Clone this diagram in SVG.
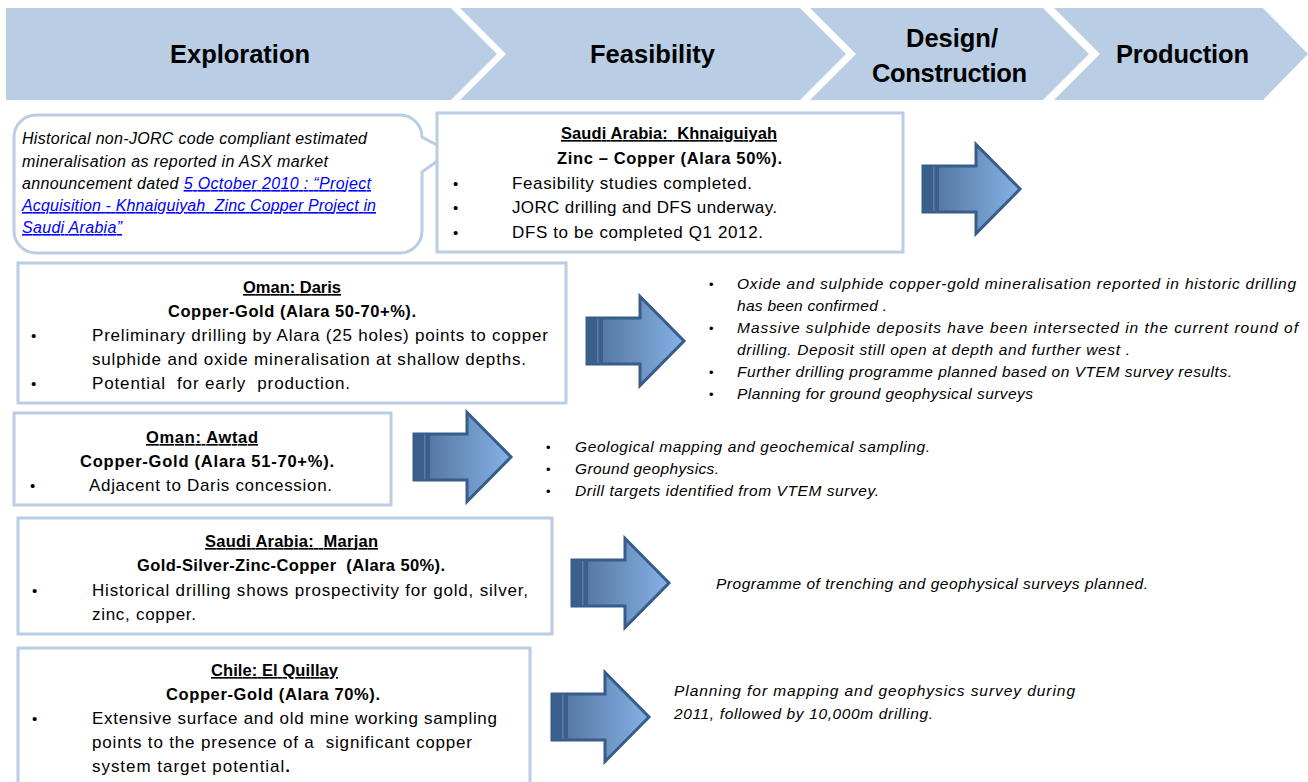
<svg xmlns="http://www.w3.org/2000/svg" width="1308" height="782" viewBox="0 0 1308 782">
<style>
  text { font-family: "Liberation Sans", Arial, sans-serif; fill: #000; }
  .hd { font-size: 25.5px; font-weight: bold; }
  .stage { fill: #b9cde5; }
  .box { fill: #fff; stroke: #b9cde5; stroke-width: 3; }
  .t { font-size: 16.5px; font-weight: bold; }
  .tu { font-size: 16.5px; font-weight: bold; text-decoration: underline; }
  .b { font-size: 17px; }
  .i { font-size: 15.5px; font-style: italic; }
  .ci { font-size: 16px; font-style: italic; }
  .lnk { fill: #0000ff; text-decoration: underline; }
  .dot { font-size: 15px; }
  .idot { font-size: 13px; }
</style>
<defs>
  <linearGradient id="ag" x1="0" y1="0" x2="1" y2="0">
    <stop offset="0" stop-color="#4d6e98"/>
    <stop offset="1" stop-color="#86b2e6"/>
  </linearGradient>
  <g id="arrow">
    <path d="M0,23 H53 V1.5 L97,46 L53,90.5 V69 H0 Z" fill="url(#ag)" stroke="#385d8a" stroke-width="3" stroke-linejoin="miter"/>
    <rect x="0" y="23" width="16" height="46" fill="#3b5f8c"/>
    <rect x="10" y="24" width="1.5" height="44" fill="#5a7ca6"/>
  </g>
</defs>

<g id="header">
  <g id="stage-exploration">
    <polygon class="stage" points="6,8 451,8 497,54 451,100 6,100"/>
    <text class="hd" x="170" y="63" textLength="140">Exploration</text>
  </g>
  <g id="stage-feasibility">
    <polygon class="stage" points="460,8 800,8 846,54 800,100 460,100 506,54"/>
    <text class="hd" x="590" y="63" textLength="125">Feasibility</text>
  </g>
  <g id="stage-design">
    <polygon class="stage" points="810,8 1043,8 1089,54 1043,100 810,100 856,54"/>
    <text class="hd" x="906" y="47" textLength="92">Design/</text>
    <text class="hd" x="872" y="82" textLength="155">Construction</text>
  </g>
  <g id="stage-production">
    <polygon class="stage" points="1054,8 1263,8 1308,54 1263,100 1054,100 1100,54"/>
    <text class="hd" x="1116" y="63" textLength="133">Production</text>
  </g>
</g>

<g id="callout">
  <path class="box" d="M36,115 H400 A22,22 0 0 1 422,137 L450,152 L422,172 V231 A22,22 0 0 1 400,253 H36 A22,22 0 0 1 14,231 V137 A22,22 0 0 1 36,115 Z"/>
  <text class="ci" x="22" y="144" textLength="345">Historical non-JORC code compliant estimated</text>
  <text class="ci" x="22" y="167" textLength="306">mineralisation as reported in ASX market</text>
  <text class="ci" x="22" y="189" textLength="349">announcement dated <tspan class="lnk">5 October 2010 : “Project</tspan></text>
  <text class="ci lnk" x="22" y="211" textLength="354" xml:space="preserve">Acquisition - Khnaiguiyah  Zinc Copper Project in</text>
  <text class="ci lnk" x="22" y="233" textLength="100">Saudi Arabia”</text>
</g>

<g id="node-khnaiguiyah">
  <rect class="box" x="437" y="113" width="466" height="139"/>
  <text class="tu" x="561" y="139" textLength="216" xml:space="preserve">Saudi Arabia:  Khnaiguiyah</text>
  <text class="t" x="557" y="164" textLength="225">Zinc – Copper (Alara 50%).</text>
  <text class="dot" x="453" y="189">•</text>
  <text class="b" x="512" y="189" textLength="240">Feasibility studies completed.</text>
  <text class="dot" x="453" y="213">•</text>
  <text class="b" x="512" y="213" textLength="265">JORC drilling and DFS underway.</text>
  <text class="dot" x="453" y="238">•</text>
  <text class="b" x="512" y="238" textLength="251">DFS to be completed Q1 2012.</text>
</g>

<g id="node-daris">
  <rect class="box" x="18" y="263" width="548" height="140"/>
  <text class="tu" x="243" y="293" textLength="98">Oman: Daris</text>
  <text class="t" x="168" y="317" textLength="248">Copper-Gold (Alara 50-70+%).</text>
  <text class="dot" x="31" y="341">•</text>
  <text class="b" x="92" y="341" textLength="456">Preliminary drilling by Alara (25 holes) points to copper</text>
  <text class="b" x="92" y="365" textLength="434">sulphide and oxide mineralisation at shallow depths.</text>
  <text class="dot" x="31" y="389">•</text>
  <text class="b" x="92" y="389" textLength="258" xml:space="preserve">Potential  for early  production.</text>
</g>

<g id="node-daris-status">
  <text class="idot" x="709" y="289">•</text>
  <text class="i" x="737" y="289" textLength="559">Oxide and sulphide copper-gold mineralisation reported in historic drilling</text>
  <text class="i" x="737" y="311" textLength="150">has been confirmed .</text>
  <text class="idot" x="709" y="333">•</text>
  <text class="i" x="737" y="333" textLength="561">Massive sulphide deposits have been intersected in the current round of</text>
  <text class="i" x="737" y="355" textLength="393">drilling. Deposit still open at depth and further west .</text>
  <text class="idot" x="709" y="377">•</text>
  <text class="i" x="737" y="377" textLength="495">Further drilling programme planned based on VTEM survey results.</text>
  <text class="idot" x="709" y="399">•</text>
  <text class="i" x="737" y="399" textLength="296">Planning for ground geophysical surveys</text>
</g>

<g id="node-awtad">
  <rect class="box" x="14" y="413" width="377" height="92"/>
  <text class="tu" x="146" y="443" textLength="112">Oman: Awtad</text>
  <text class="t" x="80" y="467" textLength="254">Copper-Gold (Alara 51-70+%).</text>
  <text class="dot" x="30" y="491">•</text>
  <text class="b" x="89" y="491" textLength="243">Adjacent to Daris concession.</text>
</g>

<g id="node-awtad-status">
  <text class="idot" x="546" y="452">•</text>
  <text class="i" x="575" y="452" textLength="355">Geological mapping and geochemical sampling.</text>
  <text class="idot" x="546" y="474">•</text>
  <text class="i" x="575" y="474" textLength="144">Ground geophysics.</text>
  <text class="idot" x="546" y="496">•</text>
  <text class="i" x="575" y="496" textLength="304">Drill targets identified from VTEM survey.</text>
</g>

<g id="node-marjan">
  <rect class="box" x="18" y="518" width="534" height="116"/>
  <text class="tu" x="205" y="547" textLength="173" xml:space="preserve">Saudi Arabia:  Marjan</text>
  <text class="t" x="137" y="571" textLength="308" xml:space="preserve">Gold-Silver-Zinc-Copper  (Alara 50%).</text>
  <text class="dot" x="32" y="596">•</text>
  <text class="b" x="92" y="596" textLength="436">Historical drilling shows prospectivity for gold, silver,</text>
  <text class="b" x="92" y="620" textLength="104">zinc, copper.</text>
</g>

<g id="node-marjan-status">
  <text class="i" x="716" y="589" textLength="432">Programme of trenching and geophysical surveys planned.</text>
</g>

<g id="node-elquillay">
  <rect class="box" x="18" y="648" width="512" height="150"/>
  <text class="tu" x="211" y="676" textLength="127">Chile: El Quillay</text>
  <text class="t" x="166" y="700" textLength="214">Copper-Gold (Alara 70%).</text>
  <text class="dot" x="32" y="724">•</text>
  <text class="b" x="92" y="724" textLength="405">Extensive surface and old mine working sampling</text>
  <text class="b" x="92" y="748" textLength="380" xml:space="preserve">points to the presence of a  significant copper</text>
  <text class="b" x="92" y="772" textLength="198">system target potential<tspan font-weight="bold">.</tspan></text>
</g>

<g id="node-elquillay-status">
  <text class="i" x="674" y="696" textLength="401">Planning for mapping and geophysics survey during</text>
  <text class="i" x="674" y="719" textLength="259">2011, followed by 10,000m drilling.</text>
</g>

<g id="connectors">
  <use href="#arrow" x="923" y="143"/>
  <use href="#arrow" x="587" y="295"/>
  <use href="#arrow" x="414" y="411"/>
  <use href="#arrow" x="572" y="537"/>
  <use href="#arrow" x="552" y="671"/>
</g>
</svg>
